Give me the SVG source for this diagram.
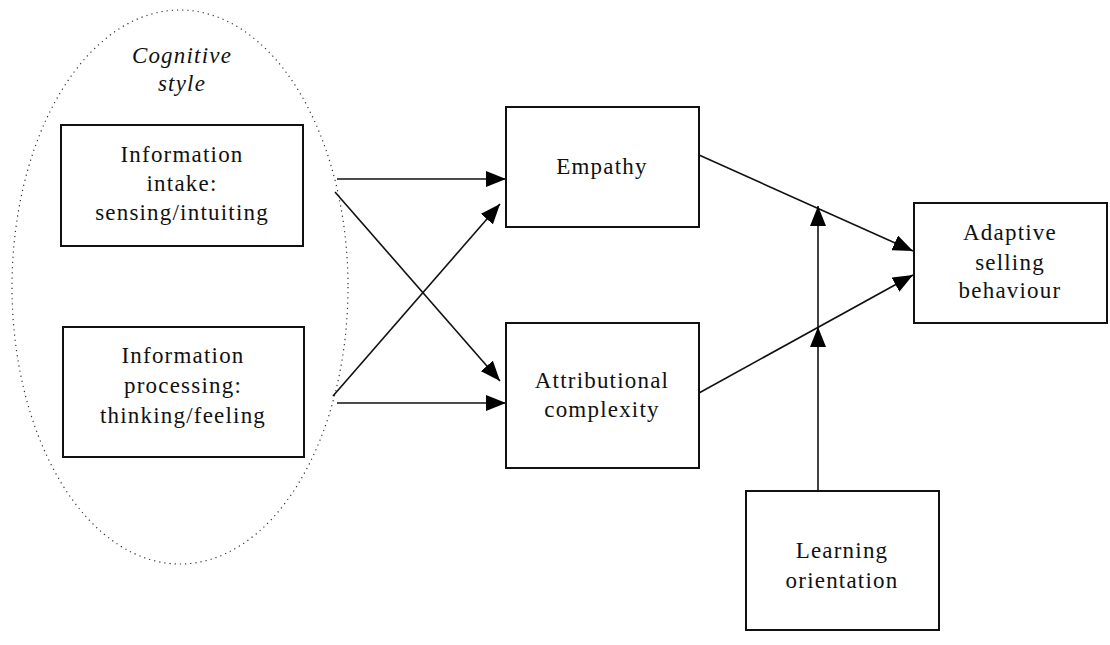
<svg xmlns="http://www.w3.org/2000/svg" width="1110" height="645" viewBox="0 0 1110 645">
<style>
.box{fill:#fff;stroke:#111;stroke-width:2}
.t{font-family:"Liberation Serif","Times New Roman",serif;font-size:23px;letter-spacing:1.2px;fill:#111;text-anchor:middle}
.it{font-style:italic}
.c{stroke:#111;stroke-width:1.6;fill:none;marker-end:url(#ah)}
</style>
<defs>
<marker id="ah" markerUnits="userSpaceOnUse" markerWidth="20" markerHeight="16" refX="20" refY="8" orient="auto" viewBox="0 0 20 16">
<path d="M0,0 L20,8 L0,16 z" fill="#000"/>
</marker>
</defs>
<rect width="1110" height="645" fill="#fff"/>
<g id="cognitive-style">
<ellipse cx="180" cy="287" rx="168" ry="277" fill="none" stroke="#333" stroke-width="1.2" stroke-dasharray="1.2,4"/>
<text class="t it" x="182" y="63">Cognitive</text>
<text class="t it" x="182" y="91">style</text>
</g>
<g id="connectors">
<path class="c" d="M337,179 L506,179"/>
<path class="c" d="M335,192 L500,381"/>
<path class="c" d="M333,396 L500,204"/>
<path class="c" d="M337,403 L506,403"/>
<path class="c" d="M699,155 L913,251"/>
<path class="c" d="M699,393 L913,275"/>
<path class="c" d="M818,491 L818,327"/>
<path class="c" d="M818,327 L818,206"/>
</g>
<g id="info-intake">
<rect class="box" x="61" y="125" width="242" height="121"/>
<text class="t" x="182" y="162">Information</text>
<text class="t" x="182" y="191">intake:</text>
<text class="t" x="182" y="220">sensing/intuiting</text>
</g>
<g id="info-processing">
<rect class="box" x="63" y="327" width="241" height="130"/>
<text class="t" x="183" y="363">Information</text>
<text class="t" x="183" y="393">processing:</text>
<text class="t" x="183" y="423">thinking/feeling</text>
</g>
<g id="empathy">
<rect class="box" x="506" y="107" width="193" height="120"/>
<text class="t" x="602" y="174">Empathy</text>
</g>
<g id="attributional">
<rect class="box" x="506" y="323" width="193" height="145"/>
<text class="t" x="602" y="388">Attributional</text>
<text class="t" x="602" y="417">complexity</text>
</g>
<g id="adaptive">
<rect class="box" x="914" y="203" width="193" height="120"/>
<text class="t" x="1010" y="240">Adaptive</text>
<text class="t" x="1010" y="270">selling</text>
<text class="t" x="1010" y="298">behaviour</text>
</g>
<g id="learning">
<rect class="box" x="746" y="491" width="193" height="139"/>
<text class="t" x="842" y="558">Learning</text>
<text class="t" x="842" y="588">orientation</text>
</g>
</svg>
